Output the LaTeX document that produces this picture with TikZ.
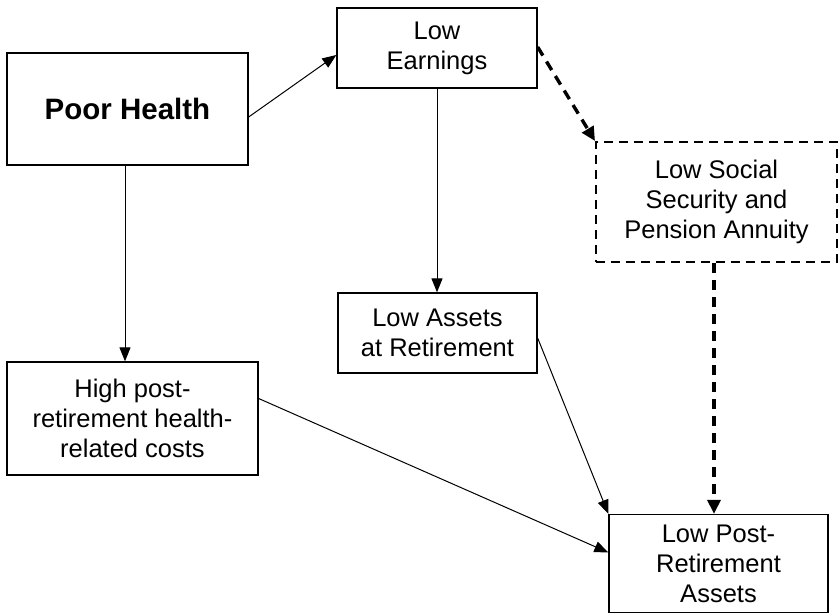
\documentclass[tikz,border=0pt]{standalone}
\usepackage{fontspec}
\setmainfont{Liberation Sans}
\usetikzlibrary{arrows.meta}
\begin{document}
\begin{tikzpicture}[x=1pt,y=-1pt,
  box/.style={draw=black,line width=1.3pt,align=center,inner sep=0pt,
    font=\fontsize{25.5}{30}\selectfont},
  dbox/.style={box,line width=2pt,dash pattern=on 9pt off 6pt},
  conn/.style={line width=1pt,-{Triangle[length=14pt,width=11pt]}},
  dconn/.style={line width=3.4pt,dash pattern=on 10pt off 7pt,-{Triangle[length=14pt,width=13pt]}}]
\useasboundingbox (0,0) rectangle (839,614);
\fill[white] (0,0) rectangle (839,614);
\node[box,minimum width=241pt,minimum height=112pt,font=\fontsize{29.5}{34}\selectfont\bfseries] (ph) at (127.5,109) {Poor Health};
\node[box,minimum width=200pt,minimum height=80pt] (le) at (437,48) {Low\\Earnings};
\node[dbox,minimum width=241pt,minimum height=120pt] (ls) at (716.5,202) {Low Social\\Security and\\Pension Annuity};
\node[box,minimum width=199pt,minimum height=80pt] (la) at (437.5,333) {Low Assets\\at Retirement};
\node[box,minimum width=251pt,minimum height=113pt] (hp) at (132.5,418.5) {High post-\\retirement health-\\related costs};
\node[box,minimum width=219pt,minimum height=98pt] (lp) at (718.5,563.5) {Low Post-\\Retirement\\Assets};
\draw[conn] ([yshift=-8pt]ph.east) -- ([yshift=-7pt]le.west);
\draw[conn] ([xshift=-2.5pt]ph.south) -- ([xshift=-2.5pt]ph.south |- hp.north);
\draw[conn] (le.south) -- (le.south |- la.north);
\draw[dconn] ([yshift=1pt]le.east) -- (ls.north west);
\draw[dconn] ([xshift=-2.5pt]ls.south) -- ([xshift=-2.5pt]ls.south |- lp.north);
\draw[conn] ([yshift=-5pt]la.east) -- (lp.north west);
\draw[conn] ([yshift=20pt]hp.east) -- ([yshift=11pt]lp.west);
\end{tikzpicture}
\end{document}
